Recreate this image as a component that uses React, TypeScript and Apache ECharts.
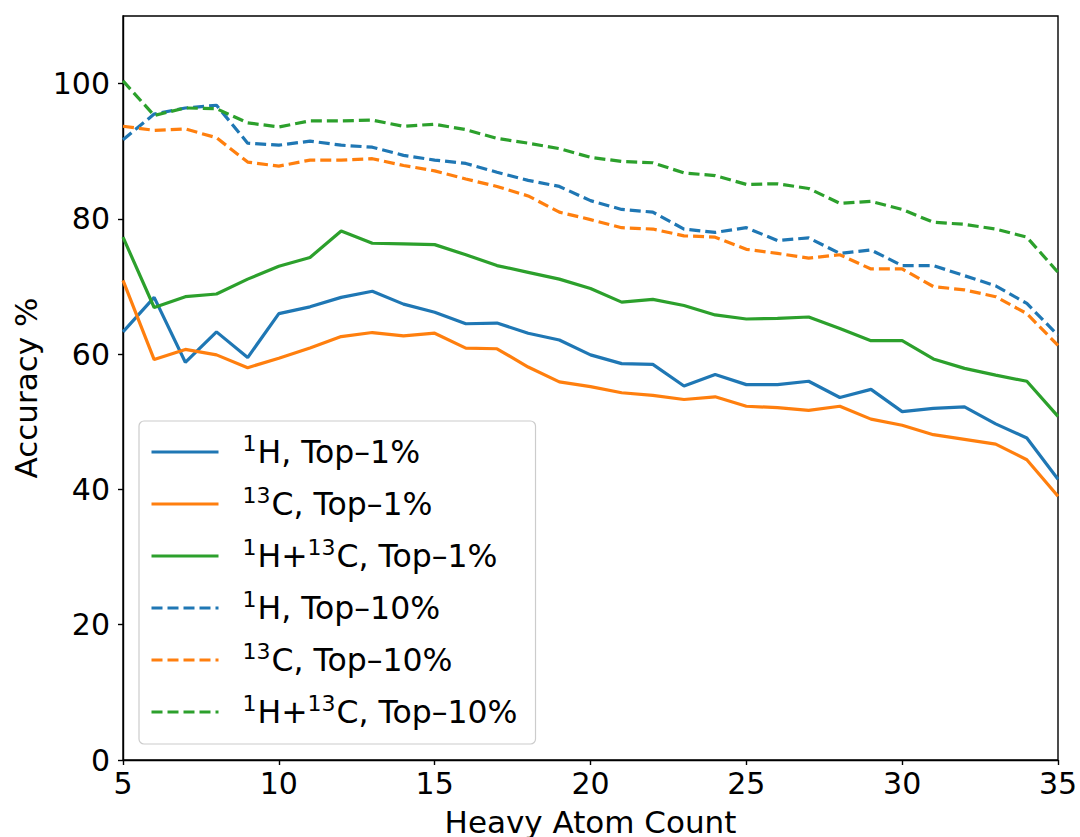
import React, { useEffect, useRef } from "react";
import * as echarts from "echarts";

const heavyAtoms = [5, 6, 7, 8, 9, 10, 11, 12, 13, 14, 15, 16, 17, 18, 19, 20, 21, 22, 23, 24, 25, 26, 27, 28, 29, 30, 31, 32, 33, 34, 35];

const hTop1 = [63.3, 68.4, 58.8, 63.3, 59.5, 66.0, 67.0, 68.4, 69.3, 67.4, 66.2, 64.5, 64.6, 63.1, 62.1, 59.9, 58.6, 58.5, 55.3, 57.0, 55.5, 55.5, 56.0, 53.6, 54.8, 51.5, 52.0, 52.2, 49.7, 47.6, 41.5];
const cTop1 = [70.9, 59.2, 60.7, 59.9, 58.0, 59.4, 60.9, 62.6, 63.2, 62.7, 63.1, 60.9, 60.8, 58.1, 55.9, 55.2, 54.3, 53.9, 53.3, 53.7, 52.3, 52.1, 51.7, 52.3, 50.4, 49.5, 48.1, 47.4, 46.7, 44.4, 39.0];
const hcTop1 = [77.3, 66.9, 68.5, 68.9, 71.1, 73.0, 74.3, 78.2, 76.4, 76.3, 76.2, 74.7, 73.1, 72.1, 71.1, 69.7, 67.7, 68.1, 67.2, 65.8, 65.2, 65.3, 65.5, 63.8, 62.0, 62.0, 59.3, 57.9, 56.9, 56.0, 50.8];
const hTop10 = [91.7, 95.5, 96.4, 96.8, 91.2, 90.9, 91.5, 90.9, 90.6, 89.4, 88.7, 88.2, 86.9, 85.7, 84.8, 82.7, 81.4, 81.0, 78.5, 78.0, 78.7, 76.8, 77.2, 74.9, 75.4, 73.1, 73.1, 71.6, 70.1, 67.5, 62.8];
const cTop10 = [93.7, 93.1, 93.3, 92.0, 88.4, 87.8, 88.7, 88.7, 88.9, 87.9, 87.1, 85.9, 84.8, 83.4, 81.0, 79.9, 78.7, 78.5, 77.5, 77.3, 75.5, 74.9, 74.2, 74.7, 72.6, 72.6, 70.0, 69.5, 68.5, 66.0, 61.3];
const hcTop10 = [100.4, 95.3, 96.4, 96.3, 94.2, 93.6, 94.5, 94.5, 94.6, 93.7, 94.0, 93.2, 91.9, 91.2, 90.4, 89.1, 88.5, 88.3, 86.8, 86.4, 85.1, 85.2, 84.5, 82.3, 82.6, 81.4, 79.5, 79.2, 78.5, 77.3, 72.1];

const yTicks = [0, 20, 40, 60, 80, 100];

const seriesNames = ["1H, Top-1%", "13C, Top-1%", "1H+13C, Top-1%", "1H, Top-10%", "13C, Top-10%", "1H+13C, Top-10%"];
const seriesRich = [
  "{sp|}{sup|1}{b|H, Top–1%}",
  "{sp|}{sup|13}{b|C, Top–1%}",
  "{sp|}{sup|1}{b|H+}{sup|13}{b|C, Top–1%}",
  "{sp|}{sup|1}{b|H, Top–10%}",
  "{sp|}{sup|13}{b|C, Top–10%}",
  "{sp|}{sup|1}{b|H+}{sup|13}{b|C, Top–10%}",
];
const seriesValues = [hTop1, cTop1, hcTop1, hTop10, cTop10, hcTop10];
const seriesColors = ["#1f77b4", "#ff7f0e", "#2ca02c", "#1f77b4", "#ff7f0e", "#2ca02c"];
const seriesDashed = [false, false, false, true, true, true];

const FONT = "DejaVu Sans";

export default function App() {
  const ref = useRef<HTMLDivElement>(null);
  useEffect(() => {
    if (!ref.current) return;
    const chart = echarts.init(ref.current, null, { renderer: "svg" });
    const richMap: Record<string, string> = {};
    seriesNames.forEach((n, i) => (richMap[n] = seriesRich[i]));
    chart.setOption({
      animation: false,
      backgroundColor: "#ffffff",
      grid: {
        left: 123,
        right: 22,
        top: 16,
        bottom: 77,
        outerBoundsMode: "none",
        containLabel: false,
        show: true,
        borderColor: "#000",
        borderWidth: 1.4,
        backgroundColor: "transparent",
      },
      xAxis: {
        type: "value",
        min: 5,
        max: 35,
        interval: 5,
        name: "Heavy Atom Count",
        nameLocation: "middle",
        nameGap: 46,
        nameTextStyle: { fontFamily: FONT, fontSize: 31, color: "#000" },
        axisLine: { show: true, lineStyle: { color: "#000", width: 1.4 } },
        axisTick: { show: true, length: 5, lineStyle: { color: "#000", width: 1.4 } },
        axisLabel: { fontFamily: FONT, fontSize: 30, color: "#000", margin: 8 },
        splitLine: { show: false },
      },
      yAxis: {
        type: "value",
        min: 0,
        max: 110,
        interval: 20,
        name: "Accuracy %",
        nameLocation: "middle",
        nameGap: 77,
        nameTextStyle: { fontFamily: FONT, fontSize: 31, color: "#000" },
        axisLine: { show: true, lineStyle: { color: "#000", width: 1.4 } },
        axisTick: { show: true, length: 5, customValues: yTicks, lineStyle: { color: "#000", width: 1.4 } },
        axisLabel: { fontFamily: FONT, fontSize: 30, color: "#000", margin: 13, customValues: yTicks },
        splitLine: { show: false },
      },
      legend: {
        orient: "vertical",
        left: 139,
        top: 421,
        padding: [11, 18, 12, 11],
        itemGap: 12,
        itemWidth: 67,
        itemHeight: 14,
        borderColor: "#cccccc",
        borderWidth: 1.2,
        borderRadius: 5,
        backgroundColor: "rgba(255,255,255,0.8)",
        itemStyle: { opacity: 0 },
        lineStyle: { width: 3 },
        data: seriesNames,
        formatter: (name: string) => richMap[name],
        textStyle: {
          fontFamily: FONT,
          fontSize: 31,
          color: "#000",
          rich: {
            sp: { width: 19, height: 40, lineHeight: 40 },
            b: { fontFamily: FONT, fontSize: 31.5, lineHeight: 40, color: "#000" },
            sup: { fontFamily: FONT, fontSize: 22, lineHeight: 20, verticalAlign: "top", color: "#000", padding: [0, 1, 0, 0] },
          },
        },
      },
      series: seriesNames.map((n, i) => ({
        name: n,
        type: "line",
        data: heavyAtoms.map((x, j) => [x, seriesValues[i][j]]),
        symbol: "none",
        showSymbol: false,
        color: seriesColors[i],
        lineStyle: {
          color: seriesColors[i],
          width: 3.2,
          type: seriesDashed[i] ? [11, 5] : "solid",
        },
        clip: true,
      })),
    });
    return () => chart.dispose();
  }, []);
  return <div ref={ref} style={{ position: "fixed", left: 0, top: 0, width: 1080, height: 837 }} />;
}
